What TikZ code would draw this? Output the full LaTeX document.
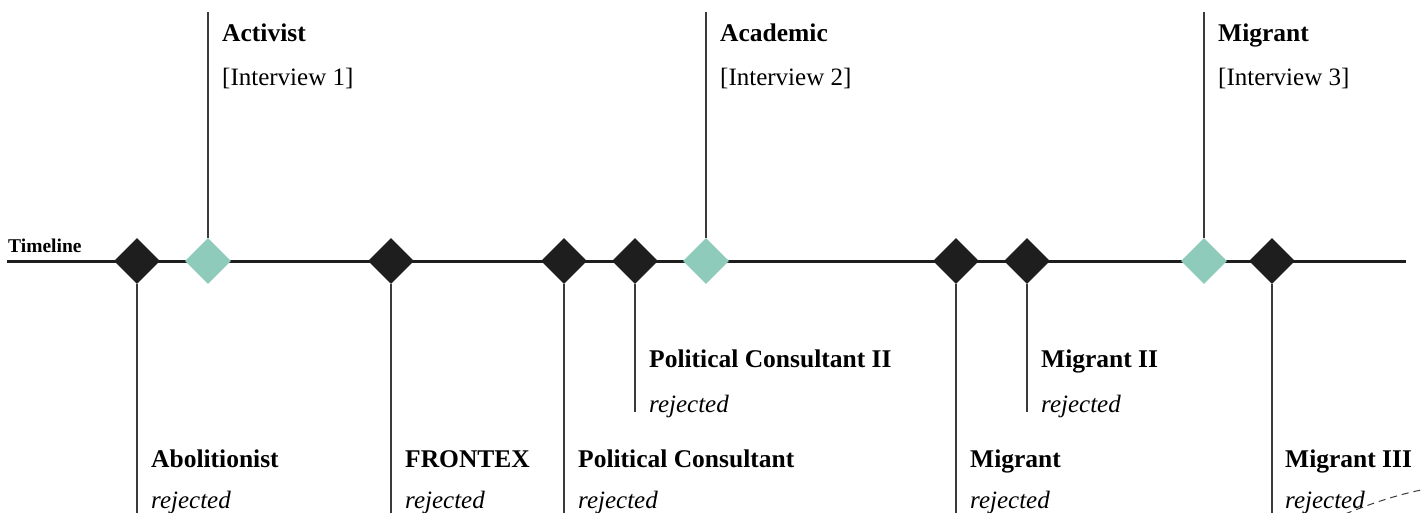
\documentclass[tikz,border=0pt]{standalone}
\usepackage{fontspec}
\setmainfont{Liberation Serif}
\usetikzlibrary{shapes.geometric}
\definecolor{dk}{HTML}{1E1E1E}
\definecolor{teal1}{HTML}{8FCBBB}
\definecolor{stem}{HTML}{3A3A3A}
\tikzset{
  dmk/.style={diamond,fill=dk,minimum width=46pt,minimum height=46pt,inner sep=0pt},
  dmt/.style={diamond,fill=teal1,minimum width=46pt,minimum height=46pt,inner sep=0pt},
  stemline/.style={draw=stem,line width=1.3pt},
  ttl/.style={anchor=base west,inner sep=0pt,font=\fontsize{25.5}{28}\selectfont\bfseries},
  sub/.style={anchor=base west,inner sep=0pt,font=\fontsize{25}{28}\selectfont},
  rej/.style={anchor=base west,inner sep=0pt,font=\fontsize{25}{28}\selectfont\itshape},
}
\begin{document}
\begin{tikzpicture}[x=1pt,y=-1pt]
\useasboundingbox (0,0) rectangle (1424,513);
\clip (0,0) rectangle (1424,513);
% timeline
\coordinate (tl0) at (7,261);
\coordinate (tl1) at (1406,261);
\draw[dk,line width=3pt] (tl0) -- (tl1);
\node[anchor=base west,inner sep=0pt,font=\fontsize{19.5}{22}\selectfont\bfseries] (tlabel) at (8,252) {Timeline};
% diamonds
\node[dmk] (d1) at (137,261) {};
\node[dmt] (t1) at (208,261) {};
\node[dmk] (d2) at (391,261) {};
\node[dmk] (d3) at (564,261) {};
\node[dmk] (d4) at (635,261) {};
\node[dmt] (t2) at (706,261) {};
\node[dmk] (d5) at (956,261) {};
\node[dmk] (d6) at (1027,261) {};
\node[dmt] (t3) at (1204,261) {};
\node[dmk] (d7) at (1272,261) {};
% stem ends
\coordinate (e1) at (137,520);
\coordinate (et1) at (208,12);
\coordinate (e2) at (391,520);
\coordinate (e3) at (564,520);
\coordinate (e4) at (635,412);
\coordinate (et2) at (706,12);
\coordinate (e5) at (956,520);
\coordinate (e6) at (1027,412);
\coordinate (et3) at (1204,12);
\coordinate (e7) at (1272,520);
\draw[stemline] (d1.south) -- (e1);
\draw[stemline] (t1.north) -- (et1);
\draw[stemline] (d2.south) -- (e2);
\draw[stemline] (d3.south) -- (e3);
\draw[stemline] (d4.south) -- (e4);
\draw[stemline] (t2.north) -- (et2);
\draw[stemline] (d5.south) -- (e5);
\draw[stemline] (d6.south) -- (e6);
\draw[stemline] (t3.north) -- (et3);
\draw[stemline] (d7.south) -- (e7);
% top labels
\node[ttl] (a1) at (222,42) {Activist};
\node[sub] (a1s) at (222,86) {[Interview 1]};
\node[ttl] (a2) at (720,42) {Academic};
\node[sub] (a2s) at (720,86) {[Interview 2]};
\node[ttl] (a3) at (1218,42) {Migrant};
\node[sub] (a3s) at (1218,86) {[Interview 3]};
% bottom labels
\node[ttl] (b1) at (151,467) {Abolitionist};
\node[rej] (b1s) at (151,508) {rejected};
\node[ttl] (b2) at (405,467) {FRONTEX};
\node[rej] (b2s) at (405,508) {rejected};
\node[ttl] (b3) at (578,467) {Political Consultant};
\node[rej] (b3s) at (578,508) {rejected};
\node[ttl] (b4) at (649,367) {Political Consultant II};
\node[rej] (b4s) at (649,412) {rejected};
\node[ttl] (b5) at (970,467) {Migrant};
\node[rej] (b5s) at (970,508) {rejected};
\node[ttl] (b6) at (1041,367) {Migrant II};
\node[rej] (b6s) at (1041,412) {rejected};
\node[ttl] (b7) at (1285,467) {Migrant III};
\node[rej] (b7s) at (1285,508) {rejected};
% dashed fragment
\coordinate (f0) at (1345,514);
\coordinate (f1) at (1426,489);
\draw[stem,line width=1pt,dash pattern=on 7pt off 5pt] (f0) .. controls (1375,502) and (1400,494) .. (f1);
\end{tikzpicture}
\end{document}
